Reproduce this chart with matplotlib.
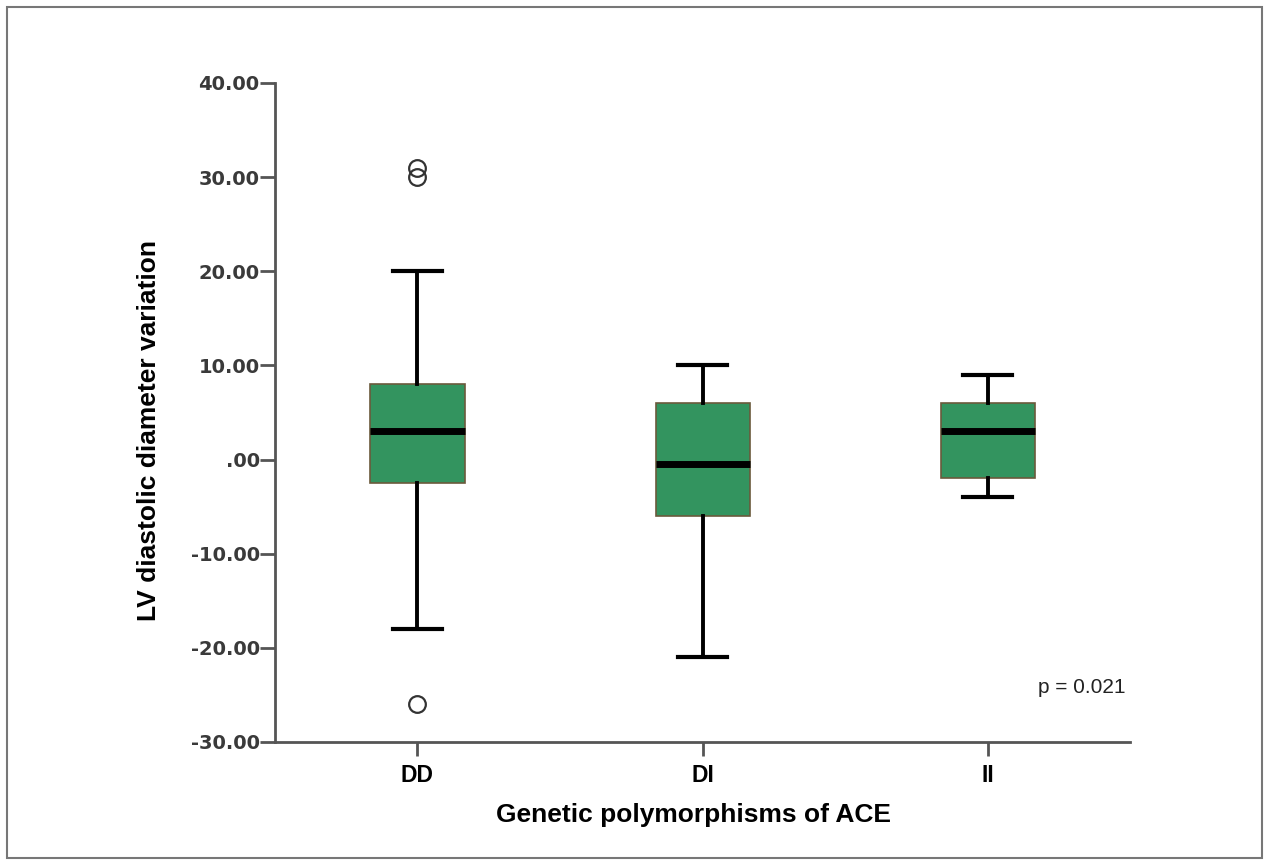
import matplotlib.pyplot as plt
from matplotlib.patches import Rectangle

groups = ['DD', 'DI', 'II']
medians = [3.0, -0.5, 3.0]
q1 = [-2.5, -6.0, -2.0]
q3 = [8.0, 6.0, 6.0]
whisk_lo = [-18.0, -21.0, -4.0]
whisk_hi = [20.0, 10.0, 9.0]
outliers = [[31.0, 30.0, -26.0], [], []]
y_ticks = [-30, -20, -10, 0, 10, 20, 30, 40]
p_text = 'p = 0.021'

fig = plt.figure(figsize=(12.67, 8.65), dpi=100)
ax = fig.add_axes([0.217, 0.1422, 0.675, 0.762])

stats = []
for i, g in enumerate(groups):
    stats.append(dict(label=g, med=medians[i], q1=q1[i], q3=q3[i],
                      whislo=whisk_lo[i], whishi=whisk_hi[i], fliers=outliers[i]))

ax.bxp(stats, positions=[1, 2, 3], widths=0.33, patch_artist=True,
       boxprops=dict(facecolor='#33945f', edgecolor='#6b5a3c', linewidth=1.2),
       medianprops=dict(color='black', linewidth=5, solid_capstyle='butt'),
       whiskerprops=dict(color='black', linewidth=2.8),
       capprops=dict(color='black', linewidth=3),
       capwidths=0.17,
       flierprops=dict(marker='o', markerfacecolor='none', markeredgecolor='#333333',
                       markersize=12, markeredgewidth=1.6))

ax.set_xlim(0.5, 3.5)
ax.set_ylim(-30, 40)
ax.set_yticks(y_ticks)
ax.set_yticklabels(['%.2f' % v if v != 0 else '.00' for v in y_ticks],
                   fontfamily='DejaVu Sans', fontweight='bold', fontsize=14, color='#3a3a3a')
ax.set_xticks([1, 2, 3])
ax.set_xticklabels(groups, fontfamily='Liberation Sans', fontweight='bold', fontsize=16.5)

for s in ['top', 'right']:
    ax.spines[s].set_visible(False)
for s in ['left', 'bottom']:
    ax.spines[s].set_color('#555555')
    ax.spines[s].set_linewidth(2)
ax.tick_params(axis='y', length=11, width=2, color='#555555', pad=0)
ax.tick_params(axis='x', length=10, width=2, color='#555555', pad=6)

ax.set_xlabel('Genetic polymorphisms of ACE', fontfamily='Liberation Sans',
              fontweight='bold', fontsize=19)
ax.set_ylabel('LV diastolic diameter variation', fontfamily='Liberation Sans',
              fontweight='bold', fontsize=19)
ax.xaxis.set_label_coords(0.49, -0.092)
ax.yaxis.set_label_coords(-0.133, 0.473)

ax.text(3.485, -24.2, p_text, ha='right', va='center', fontfamily='Liberation Sans',
        fontsize=15, color='#222222')

# outer frame around the whole picture
fig.patches.append(Rectangle((7 / 1267, 7 / 865), 1255 / 1267, 851 / 865,
                             transform=fig.transFigure, fill=False,
                             edgecolor='#777777', linewidth=1.5))

fig.savefig('out.png', dpi=100)
